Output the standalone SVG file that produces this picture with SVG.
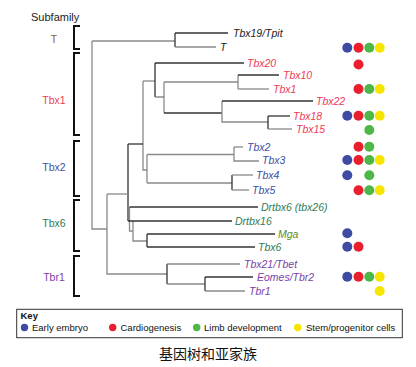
<svg xmlns="http://www.w3.org/2000/svg" width="416" height="367" viewBox="0 0 416 367">
<style>
text{font-family:"Liberation Sans",Arial,sans-serif}
.g{font-size:10.5px;font-style:italic}
.sf{font-size:10.5px;text-anchor:middle}
.d{stroke:#333;stroke-width:1.3;fill:none}
.l{stroke:#8a8a8a;stroke-width:1.3;fill:none}
.br{stroke:#111;stroke-width:2;fill:none}
.k{font-size:9.5px;fill:#111}
.B{fill:#3d4ba3}.R{fill:#ea1f2d}.G{fill:#4db748}.Y{fill:#f7e500}
.cT{fill:#222}.c1{fill:#ee3b55}.c2{fill:#4050a8}.c6{fill:#2f7a55}.cr{fill:#7a3fa8}
</style>
<rect width="416" height="367" fill="#fff"/>
<g id="subfamilies">
<text x="31" y="20.5" style="font-size:11px" fill="#222">Subfamily</text>
<g id="sf-T"><path class="br" d="M80,26 H74 V49 H80"/><text class="sf" x="54" y="43" fill="#8b5a2b">T</text></g>
<g id="sf-Tbx1"><path class="br" d="M80,53 H74 V135 H80"/><text class="sf" x="54" y="104" fill="#ee3b55">Tbx1</text></g>
<g id="sf-Tbx2"><path class="br" d="M80,141 H74 V196 H80"/><text class="sf" x="54" y="170.5" fill="#4050a8">Tbx2</text></g>
<g id="sf-Tbx6"><path class="br" d="M80,200 H74 V251 H80"/><text class="sf" x="54" y="227" fill="#2f7a55">Tbx6</text></g>
<g id="sf-Tbr1"><path class="br" d="M80,256 H74 V296 H80"/><text class="sf" x="54" y="280.5" fill="#7a3fa8">Tbr1</text></g>
</g>
<g id="connectors">
<path class="l" d="M92,41 V229 H107"/>
<path class="l" d="M92,41 H175"/>
<path class="d" d="M175,33 V47"/>
<path class="d" d="M175,33 H228"/>
<path class="l" d="M175,47 H216"/>
<path class="l" d="M143,81 V170 H147"/>
<path class="l" d="M143,81 H155"/>
<path class="d" d="M155,63 V97"/>
<path class="d" d="M155,63 H244"/>
<path class="l" d="M155,97 H164 V113"/>
<path class="l" d="M164,82 V97"/>
<path class="l" d="M164,82 H238"/>
<path class="d" d="M164,113 H222"/>
<path class="l" d="M238,75 V89"/>
<path class="d" d="M238,75 H279"/>
<path class="l" d="M238,89 H269"/>
<path class="l" d="M222,101 V122 H268"/>
<path class="d" d="M222,101 H313"/>
<path class="d" d="M268,116 V129"/>
<path class="d" d="M268,116 H290"/>
<path class="l" d="M268,129 H292"/>
<path class="d" d="M128,144 H143"/>
<path class="d" d="M128,144 V221"/>
<path class="l" d="M107,194 H128"/>
<path class="l" d="M107,194 V274 H167"/>
<path class="l" d="M147,154.5 V183"/>
<path class="l" d="M147,154.5 H234"/>
<path class="l" d="M147,183 H232"/>
<path class="l" d="M234,147 V161 H259"/>
<path class="l" d="M234,147 H243"/>
<path class="d" d="M232,175 V190"/>
<path class="l" d="M232,175 H253"/>
<path class="l" d="M232,190 H249"/>
<path class="l" d="M129.5,207 V231 H133"/>
<path class="d" d="M129.5,207 H258"/>
<path class="l" d="M133,221 V241 H147"/>
<path class="d" d="M128,221 H232"/>
<path class="d" d="M147,234 V247"/>
<path class="d" d="M147,234 H275"/>
<path class="d" d="M147,247 H255"/>
<path class="d" d="M167,264 V284"/>
<path class="l" d="M167,264 H240"/>
<path class="l" d="M167,284 H205"/>
<path class="d" d="M205,277 V291"/>
<path class="d" d="M205,277 H253"/>
<path class="l" d="M205,291 H245"/>
</g>
<g id="genes">
<g id="n-Tbx19"><text class="g cT" x="233" y="36.7">Tbx19/Tpit</text></g>
<g id="n-T"><text class="g cT" x="220" y="50.7">T</text>
<circle class="B" cx="347.3" cy="47.7" r="5"/><circle class="R" cx="358.5" cy="47.7" r="5"/><circle class="G" cx="369.3" cy="47.7" r="5"/><circle class="Y" cx="379.7" cy="47.7" r="5"/></g>
<g id="n-Tbx20"><text class="g c1" x="247" y="66.7">Tbx20</text>
<circle class="R" cx="358.5" cy="64.5" r="5"/></g>
<g id="n-Tbx10"><text class="g c1" x="283" y="78.5">Tbx10</text></g>
<g id="n-Tbx1"><text class="g c1" x="273" y="92.5">Tbx1</text>
<circle class="R" cx="358.5" cy="89" r="5"/><circle class="G" cx="369.3" cy="89" r="5"/><circle class="Y" cx="379.7" cy="89" r="5"/></g>
<g id="n-Tbx22"><text class="g c1" x="316" y="104.5">Tbx22</text></g>
<g id="n-Tbx18"><text class="g c1" x="293" y="119.5">Tbx18</text>
<circle class="B" cx="347.3" cy="115.7" r="5"/><circle class="R" cx="358.5" cy="115.7" r="5"/><circle class="G" cx="369.3" cy="115.7" r="5"/><circle class="Y" cx="379.7" cy="115.7" r="5"/></g>
<g id="n-Tbx15"><text class="g c1" x="296" y="132.7">Tbx15</text>
<circle class="G" cx="369.3" cy="130" r="5"/></g>
<g id="n-Tbx2"><text class="g c2" x="247" y="150.5">Tbx2</text>
<circle class="R" cx="358.5" cy="146.7" r="5"/><circle class="G" cx="369.3" cy="146.7" r="5"/></g>
<g id="n-Tbx3"><text class="g c2" x="262" y="164.3">Tbx3</text>
<circle class="B" cx="347.3" cy="160" r="5"/><circle class="R" cx="358.5" cy="160" r="5"/><circle class="G" cx="369.3" cy="160" r="5"/><circle class="Y" cx="379.7" cy="160" r="5"/></g>
<g id="n-Tbx4"><text class="g c2" x="256" y="178.7">Tbx4</text>
<circle class="B" cx="347.3" cy="175.3" r="5"/><circle class="G" cx="369.3" cy="175.3" r="5"/></g>
<g id="n-Tbx5"><text class="g c2" x="252" y="193.7">Tbx5</text>
<circle class="R" cx="358.5" cy="190.3" r="5"/><circle class="G" cx="369.3" cy="190.3" r="5"/><circle class="Y" cx="379.7" cy="190.3" r="5"/></g>
<g id="n-Drtbx6"><text class="g c6" x="261" y="210.7">Drtbx6 (tbx26)</text></g>
<g id="n-Drtbx16"><text class="g c6" x="235" y="224.5">Drtbx16</text></g>
<g id="n-Mga"><text class="g" x="278" y="237.5" fill="#5a8a2a">Mga</text>
<circle class="B" cx="347.3" cy="233.3" r="5"/></g>
<g id="n-Tbx6"><text class="g c6" x="258" y="250.5">Tbx6</text>
<circle class="B" cx="347.3" cy="246.7" r="5"/><circle class="R" cx="358.5" cy="246.7" r="5"/></g>
<g id="n-Tbx21"><text class="g cr" x="244" y="267.7">Tbx21/Tbet</text></g>
<g id="n-Eomes"><text class="g cr" x="257" y="280.5">Eomes/Tbr2</text>
<circle class="B" cx="347.3" cy="276.7" r="5"/><circle class="R" cx="358.5" cy="276.7" r="5"/><circle class="G" cx="369.3" cy="276.7" r="5"/><circle class="Y" cx="379.7" cy="276.7" r="5"/></g>
<g id="n-Tbr1"><text class="g cr" x="249" y="294.7">Tbr1</text>
<circle class="Y" cx="379.7" cy="291" r="5"/></g>
</g>
<g id="key">
<rect x="16.7" y="309.3" width="385.6" height="28.4" fill="#fff" stroke="#333" stroke-width="1"/>
<text x="20.5" y="318.5" style="font-size:9.5px;font-weight:bold" fill="#111">Key</text>
<circle class="B" cx="24.5" cy="327.5" r="3.7"/><text class="k" x="32" y="330.8">Early embryo</text>
<circle class="R" cx="112.7" cy="327.5" r="3.7"/><text class="k" x="120.5" y="330.8">Cardiogenesis</text>
<circle class="G" cx="196.7" cy="327.5" r="3.7"/><text class="k" x="204" y="330.8">Limb development</text>
<circle class="Y" cx="297.7" cy="327.5" r="3.7"/><text class="k" x="306" y="330.8">Stem/progenitor cells</text>
</g>
<text x="208" y="358.5" style="font-size:14px;font-family:'Liberation Sans','Noto Sans CJK SC',sans-serif" text-anchor="middle" fill="#111">基因树和亚家族</text>
</svg>
